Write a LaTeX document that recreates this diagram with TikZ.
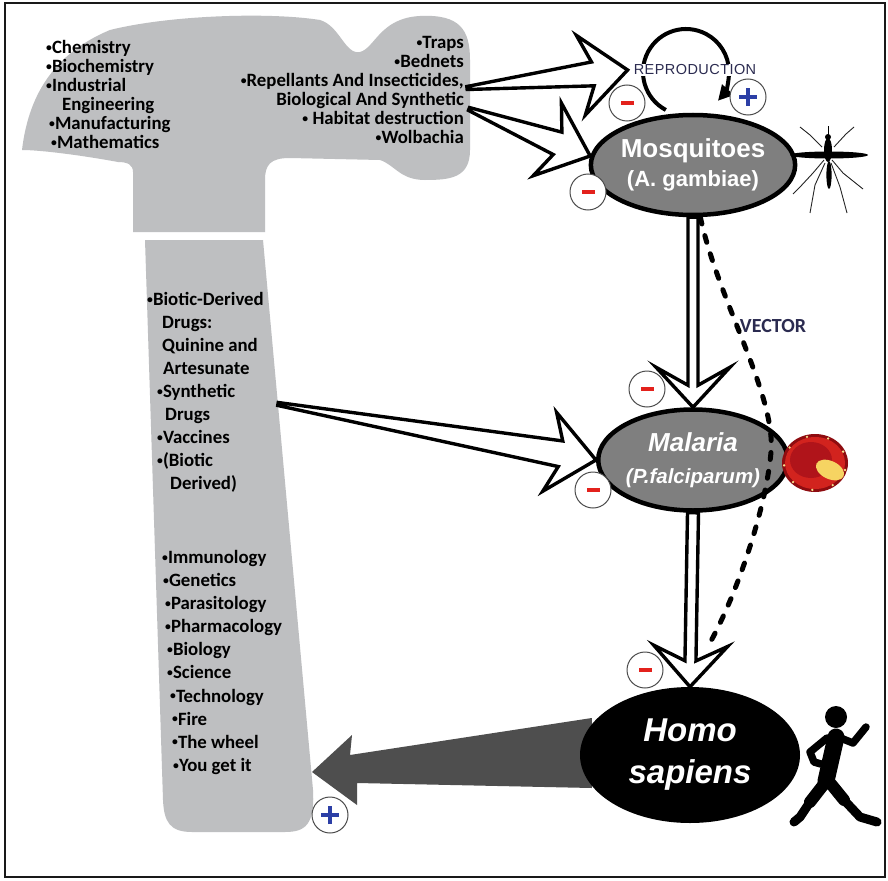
\documentclass[tikz,border=0pt]{standalone}
\usepackage{fontspec}
\setmainfont{Carlito}
\newfontfamily\arialfont{Liberation Sans}
\usetikzlibrary{calc,arrows.meta,shapes.geometric}

\definecolor{hammergray}{HTML}{BEBFC1}
\definecolor{bubblegray}{HTML}{7F7F7F}
\definecolor{arrowgray}{HTML}{4E4E4E}
\definecolor{signred}{HTML}{E3211C}
\definecolor{signblue}{HTML}{2C3FA6}
\definecolor{labelnavy}{HTML}{2B2B50}
\definecolor{cellrim}{HTML}{8E0C10}
\definecolor{cellred}{HTML}{D2231E}
\definecolor{celldark}{HTML}{B0141A}
\definecolor{cellyellow}{HTML}{F6D462}
\definecolor{cellspot}{HTML}{F8E08C}

\pgfdeclarelayer{back}
\pgfsetlayers{back,main}

% small list bullet
\newcommand{\bul}{\raisebox{0.12em}{\scalebox{0.62}{•}}}

% Hollow block arrow: tail, tip, shaft-end setback, barb setback,
% shaft half width at the head, head half width, half width at the tail
\newcommand{\hollowarrow}[7]{%
  \path ($(#2)!#3!(#1)$) coordinate (hs) ($(#2)!#4!(#1)$) coordinate (hb);
  \draw[hollow] ($(#1)!#7!90:(#2)$) -- ($(hs)!#5!90:(#2)$) -- ($(hb)!#6!90:(#2)$)
    -- (#2) -- ($(hb)!#6!-90:(#2)$) -- ($(hs)!#5!-90:(#2)$) -- ($(#1)!#7!-90:(#2)$) -- cycle;}

\begin{document}
\begin{tikzpicture}[x=1pt, y=-1pt,
  hammer/.style={fill=hammergray},
  listtext/.style={font=\bfseries\fontsize{18.8}{19}\selectfont, inner sep=0pt, text=black},
  bubble/.style={ellipse, inner sep=0pt, align=center, text=white},
  hollow/.style={draw=black, fill=white, line width=3.4pt, line join=miter},
  signbase/.style={circle, draw=black!70, line width=1pt, fill=white, minimum size=36pt, inner sep=0pt},
  minussign/.style={signbase, path picture={\fill[signred]
      ([xshift=-6.5pt,yshift=-2pt]path picture bounding box.center) rectangle
      ([xshift=6.5pt,yshift=2pt]path picture bounding box.center);}},
  plussign/.style={signbase, path picture={\draw[signblue, line width=3.2pt]
      ([xshift=-9pt]path picture bounding box.center) -- ([xshift=9pt]path picture bounding box.center)
      ([yshift=-9pt]path picture bounding box.center) -- ([yshift=9pt]path picture bounding box.center);}},
  vectorline/.style={line width=5pt, dash pattern=on 7pt off 12pt, line cap=round},
  sil/.style={line cap=round, line join=round, draw=black},
  leg/.style={line width=0.9pt, draw=black!85, line join=round}]

\useasboundingbox (0,0) rectangle (888,880);

% ---- the three organisms ----
\node[bubble, fill=bubblegray, draw=black, line width=4.5pt,
      minimum width=175pt, minimum height=100pt,
      font=\arialfont\bfseries\fontsize{26}{29}\selectfont] (mosq) at (693,165)
      {Mosquitoes\\\fontsize{22}{29}\selectfont(A. gambiae)};
\node[bubble, fill=bubblegray, draw=black, line width=4.5pt,
      minimum width=168pt, minimum height=101pt,
      font=\arialfont\bfseries\itshape\fontsize{26}{32}\selectfont] (malaria) at (693,460)
      {Malaria\\\fontsize{20.5}{32}\selectfont(P.falciparum)};
\node[bubble, fill=black, minimum width=220pt, minimum height=136pt,
      font=\arialfont\bfseries\itshape\fontsize{33}{42}\selectfont] (homo) at (690,755)
      {Homo\\sapiens};

\node[fill=white, inner sep=1pt, text=labelnavy,
      font=\arialfont\fontsize{14.5}{16}\selectfont\addfontfeature{LetterSpace=3}] (repro) at (695,70) {REPRODUCTION};
\coordinate (rc) at (686,72);

\begin{pgfonlayer}{back}
  \fill[white] (0,0) rectangle (888,880);

  % hammer head
  \fill[hammer] (22,150) .. controls (28,100) and (50,55) .. (110,30)
    .. controls (170,15) and (270,12) .. (320,20)
    .. controls (340,26) and (345,55) .. (360,52)
    .. controls (375,48) and (380,18) .. (420,16)
    .. controls (460,14) and (470,30) .. (470,60)
    -- (470,150)
    .. controls (470,178) and (450,180) .. (425,180)
    .. controls (400,180) and (395,165) .. (380,160)
    -- (290,158)
    .. controls (270,158) and (265,165) .. (265,180)
    -- (265,232) -- (133,232) -- (133,172)
    .. controls (133,165) and (128,162) .. (118,162)
    .. controls (80,155) and (40,150) .. (22,150) -- cycle;
  % hammer handle
  \fill[hammer] (145,240) -- (263,240) -- (313,790)
    .. controls (315,825) and (305,832) .. (285,832)
    -- (192,832) .. controls (170,832) and (164,822) .. (163,800) -- cycle;

  % lists of tools
  \node[listtext, align=left, anchor=north west] (sciences) at (46,40)
    {\bul Chemistry\\\bul Biochemistry\\\bul Industrial\\\hspace*{16pt}Engineering\\
     \hspace*{3pt}\bul Manufacturing\\\hspace*{5pt}\bul Mathematics};
  \node[listtext, align=right, anchor=north east] (controls) at (464,36)
    {\bul Traps\\\bul Bednets\\\bul Repellants And Insecticides,\\Biological And Synthetic\\
     \bul\ Habitat destruction\\\bul Wolbachia};
  \node[listtext, align=left, anchor=north west,
        font=\bfseries\fontsize{18.8}{23}\selectfont] (drugs) at (147,292)
    {\bul Biotic-Derived\\\hspace*{15pt}Drugs:\\\hspace*{15pt}Quinine and\\\hspace*{16pt}Artesunate\\
     \hspace*{10pt}\bul Synthetic\\\hspace*{18pt}Drugs\\\hspace*{10pt}\bul Vaccines\\
     \hspace*{10pt}\bul(Biotic\\\hspace*{23pt}Derived)};
  \node[listtext, align=left, anchor=north west,
        font=\bfseries\fontsize{18.8}{23.1}\selectfont] (fields) at (162,550)
    {\bul Immunology\\\hspace*{1pt}\bul Genetics\\\hspace*{3pt}\bul Parasitology\\\hspace*{3pt}\bul Pharmacology\\
     \hspace*{5pt}\bul Biology\\\hspace*{5pt}\bul Science\\\hspace*{8pt}\bul Technology\\\hspace*{10pt}\bul Fire\\
     \hspace*{10pt}\bul The wheel\\\hspace*{11pt}\bul You get it};

  % block arrows from the hammer
  \coordinate (t1) at (467,88);
  \coordinate (p1) at ([xshift=-5pt]repro.west);
  \coordinate (t2) at (469,109);
  \coordinate (t3) at (278,404);
  \hollowarrow{t1}{p1}{35pt}{47pt}{12pt}{40pt}{1.5pt}
  \hollowarrow{t2}{mosq.175}{35pt}{46pt}{12pt}{39pt}{1.5pt}
  \hollowarrow{t3}{malaria.west}{36pt}{47pt}{13pt}{40pt}{1.5pt}

  % mosquito -> malaria -> humans
  \hollowarrow{mosq.south}{malaria.north}{22pt}{40pt}{5pt}{37pt}{5pt}
  \hollowarrow{malaria.south}{homo.north}{26pt}{41pt}{5.5pt}{37pt}{5.5pt}

  % humans feed back into the toolbox
  \coordinate (htip) at (312,772);
  \fill[arrowgray] (htip) -- ++(40,-37) -- ++(-2,20)
    -- ($(homo.west)+(12,-37)$) -- ($(homo.west)+(12,33)$)
    -- ($(htip)+(45,11)$) -- ($(htip)+(45,33)$) -- cycle;

  % reproduction loop
  \draw[line width=4pt, -{Triangle[length=15pt,width=15pt]}]
    ($(rc)+(118:43)$) arc[start angle=118, end angle=402, radius=43];
\end{pgfonlayer}

% vector transmission
\coordinate (vmid) at (771,452);
\coordinate (vend) at (707,648);
\draw[vectorline] (mosq.-82) .. controls (718,300) and (776,395) .. (vmid)
  .. controls (766,510) and (735,600) .. (vend);
\node[font=\bfseries\fontsize{20}{22}\selectfont, text=labelnavy] (vector) at (773,326) {VECTOR};

% signs
\node[minussign] (s1) at (627,103) {};
\node[plussign]  (s2) at (748,97) {};
\node[minussign] (s3) at (588,192) {};
\node[minussign] (s4) at (647,389) {};
\node[minussign] (s5) at (593,490) {};
\node[minussign] (s6) at (645,670) {};
\node[plussign]  (s7) at (330,815) {};

% mosquito silhouette
\fill (829,155) ellipse [x radius=39, y radius=3.5];
\fill (828,150) ellipse [x radius=4, y radius=12];
\fill (829,175) ellipse [x radius=2.6, y radius=14];
\fill (828,137) circle (3);
\draw[line width=1pt] (828,135) -- (828,126);
\draw[leg] (822,147) -- (810,135) -- (800,127);
\draw[leg] (834,147) -- (846,134) -- (854,127);
\draw[leg] (824,160) -- (813,173) -- (800,187) -- (793,194);
\draw[leg] (825,163) -- (815,185) -- (810,213);
\draw[leg] (832,160) -- (843,173) -- (863,189);
\draw[leg] (831,163) -- (840,187) -- (847,213);

% infected red blood cell
\fill[cellrim] (815,463) ellipse [x radius=33, y radius=29];
\fill[cellred] (815,463) ellipse [x radius=30, y radius=26];
\fill[celldark] (811,460) ellipse [x radius=21, y radius=18];
\fill[cellyellow, rotate around={-25:(830,470)}] (830,470) ellipse [x radius=15, y radius=9];
\foreach \a in {15,55,95,135,175,215,255,295,335}
  \fill[cellspot] ($(815,463)+(\a:31 and 27)$) circle (1.3);

% walking human
\fill (836,717) circle (11);
\draw[sil, line width=17pt] (836,737) -- (826,781);
\draw[sil, line width=7.5pt] (838,737) -- (853,743) -- (866,727);
\draw[sil, line width=7.5pt] (827,738) -- (810,752) -- (814,762) -- (821,764);
\draw[sil, line width=12pt] (831,784) -- (844,800);
\draw[sil, line width=9pt] (844,800) -- (860,817) -- (877,822);
\draw[sil, line width=12pt] (824,784) -- (810,802);
\draw[sil, line width=9pt] (810,802) -- (800,817) -- (794,822);

% frame
\draw[line width=2.2pt, black!90] (5,3) rectangle (885,877);
\end{tikzpicture}
\end{document}
